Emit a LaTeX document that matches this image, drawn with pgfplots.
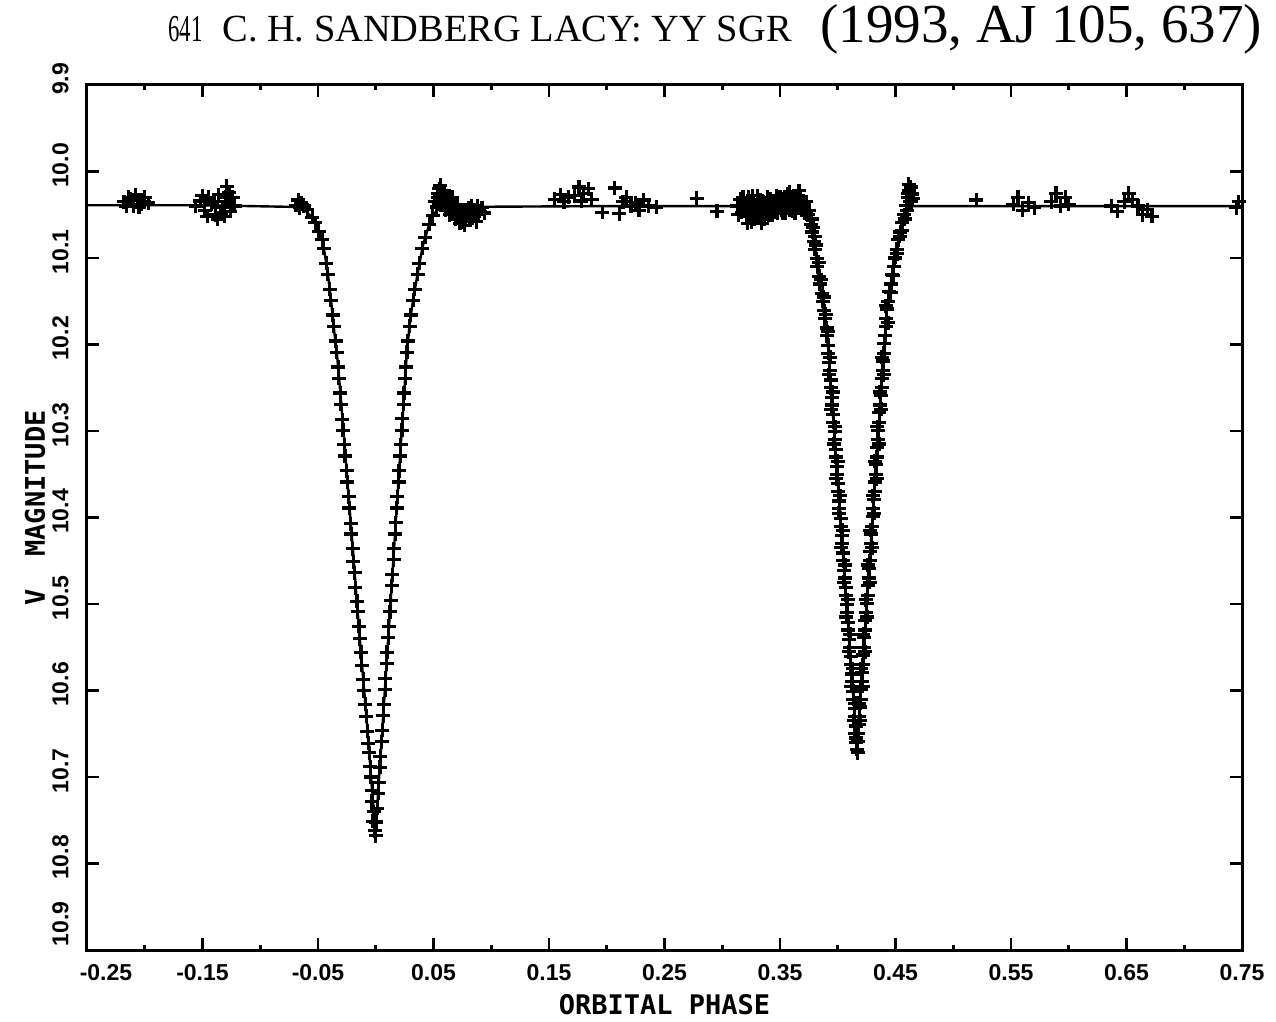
\documentclass[border=0pt]{standalone}
\usepackage{fontspec}
\setmainfont{Liberation Serif}
\newfontfamily\plotfont{Liberation Sans}
\newfontfamily\plotmono{DejaVu Sans Mono}
\usepackage{graphicx}
\usepackage{pgfplots}
\pgfplotsset{compat=1.18}

\pgfplotstableread{
x y
-0.250 10.039
-0.150 10.039
-0.0682 10.041
-0.0613 10.0445
-0.0552 10.053
-0.0509 10.064
-0.0465 10.079
-0.0439 10.097
-0.0413 10.120
-0.0387 10.149
-0.0361 10.183
-0.0335 10.212
-0.0301 10.264
-0.0266 10.322
-0.0232 10.380
-0.0197 10.438
-0.0165 10.495
-0.0130 10.553
-0.0093 10.611
-0.0058 10.669
-0.0032 10.715
-0.0006 10.758
0.0011 10.738
0.0040 10.679
0.0080 10.597
0.0120 10.515
0.0160 10.433
0.0200 10.351
0.0240 10.269
0.0269 10.210
0.0297 10.172
0.0323 10.149
0.0357 10.122
0.0409 10.085
0.0470 10.058
0.0530 10.044
0.0600 10.041
0.2000 10.040
0.3630 10.040
0.3716 10.0445
0.3760 10.052
0.3790 10.075
0.3830 10.118
0.3865 10.150
0.3916 10.203
0.3960 10.284
0.4000 10.358
0.4040 10.432
0.4080 10.506
0.4120 10.580
0.4167 10.667
0.4200 10.602
0.4250 10.503
0.4300 10.404
0.4350 10.305
0.4403 10.200
0.4426 10.160
0.4470 10.122
0.4513 10.087
0.4556 10.060
0.4600 10.042
0.4650 10.040
0.7500 10.040
}\modeltab

\pgfplotstableread{
x y
-0.218 10.035
-0.214 10.030
-0.210 10.040
-0.206 10.033
-0.203 10.038
-0.200 10.030
-0.197 10.036
-0.208 10.027
-0.216 10.040
-0.212 10.032
-0.205 10.041
-0.201 10.035
-0.156 10.040
-0.152 10.034
-0.148 10.045
-0.145 10.030
-0.142 10.038
-0.139 10.050
-0.136 10.027
-0.133 10.042
-0.129 10.017
-0.128 10.035
-0.126 10.046
-0.124 10.030
-0.122 10.040
-0.137 10.055
-0.131 10.052
-0.150 10.028
-0.146 10.052
-0.140 10.035
-0.134 10.048
-0.130 10.030
-0.127 10.024
-0.125 10.040
-0.0690 10.039
-0.0670 10.033
-0.0660 10.042
-0.0645 10.036
-0.0623 10.040
-0.0592 10.044
-0.0548 10.053
-0.0522 10.059
-0.0493 10.069
-0.0464 10.079
-0.0449 10.089
-0.0428 10.106
-0.0415 10.119
-0.0398 10.136
-0.0389 10.149
-0.0373 10.166
-0.0365 10.179
-0.0346 10.196
-0.0338 10.209
-0.0325 10.226
-0.0320 10.239
-0.0307 10.256
-0.0302 10.269
-0.0289 10.287
-0.0284 10.299
-0.0271 10.316
-0.0266 10.329
-0.0253 10.346
-0.0248 10.359
-0.0235 10.376
-0.0230 10.389
-0.0217 10.407
-0.0212 10.419
-0.0199 10.436
-0.0194 10.451
-0.0181 10.464
-0.0176 10.481
-0.0163 10.497
-0.0158 10.509
-0.0145 10.526
-0.0140 10.540
-0.0127 10.556
-0.0122 10.571
-0.0108 10.587
-0.0104 10.600
-0.0090 10.616
-0.0082 10.630
-0.0073 10.647
-0.0063 10.661
-0.0057 10.672
-0.0048 10.688
-0.0043 10.700
-0.0030 10.716
-0.0033 10.728
-0.0024 10.751
-0.0019 10.740
-0.0010 10.762
-0.0002 10.768
0.0003 10.752
0.0012 10.736
0.0022 10.719
0.0025 10.706
0.0037 10.689
0.0040 10.676
0.0051 10.659
0.0055 10.646
0.0066 10.629
0.0069 10.616
0.0081 10.599
0.0084 10.586
0.0095 10.569
0.0098 10.556
0.0110 10.539
0.0113 10.526
0.0124 10.509
0.0128 10.496
0.0139 10.479
0.0142 10.466
0.0154 10.449
0.0157 10.436
0.0168 10.419
0.0172 10.406
0.0183 10.389
0.0186 10.376
0.0198 10.359
0.0201 10.346
0.0212 10.329
0.0216 10.316
0.0227 10.299
0.0230 10.286
0.0242 10.269
0.0245 10.256
0.0256 10.239
0.0259 10.226
0.0271 10.209
0.0278 10.196
0.0293 10.179
0.0301 10.166
0.0324 10.149
0.0338 10.136
0.0362 10.119
0.0378 10.106
0.0404 10.089
0.0428 10.076
0.0462 10.061
0.0493 10.051
0.0528 10.041
0.0540 10.030
0.0550 10.020
0.0560 10.016
0.0570 10.025
0.0585 10.035
0.0600 10.028
0.0615 10.040
0.0630 10.032
0.0650 10.036
0.0665 10.045
0.0680 10.040
0.0700 10.048
0.0720 10.044
0.0740 10.052
0.0760 10.058
0.0780 10.050
0.0800 10.042
0.0820 10.046
0.0840 10.054
0.0860 10.045
0.0880 10.040
0.0900 10.046
0.0510 10.035
0.0535 10.025
0.0545 10.038
0.0575 10.032
0.0590 10.022
0.0605 10.045
0.0625 10.038
0.0640 10.050
0.0660 10.030
0.0690 10.055
0.0710 10.038
0.0730 10.060
0.0750 10.045
0.0770 10.062
0.0790 10.044
0.0810 10.055
0.0830 10.040
0.0850 10.050
0.0870 10.058
0.0890 10.050
0.0920 10.042
0.0940 10.048
0.155 10.032
0.160 10.027
0.163 10.035
0.167 10.030
0.172 10.028
0.176 10.018
0.180 10.025
0.184 10.020
0.187 10.032
0.178 10.034
0.207 10.019
0.196 10.047
0.211 10.049
0.214 10.035
0.217 10.030
0.221 10.040
0.225 10.036
0.228 10.045
0.232 10.033
0.236 10.040
0.243 10.041
0.278 10.031
0.2955 10.046
0.3130 10.040
0.3155 10.032
0.3170 10.047
0.3190 10.038
0.3210 10.052
0.3225 10.030
0.3240 10.044
0.3255 10.058
0.3270 10.036
0.3290 10.048
0.3305 10.028
0.3320 10.042
0.3340 10.060
0.3355 10.035
0.3370 10.045
0.3390 10.030
0.3405 10.050
0.3420 10.040
0.3440 10.034
0.3455 10.047
0.3470 10.028
0.3490 10.042
0.3505 10.035
0.3520 10.048
0.3540 10.030
0.3555 10.040
0.3570 10.026
0.3590 10.037
0.3605 10.046
0.3620 10.032
0.3640 10.041
0.3655 10.028
0.3670 10.036
0.3690 10.045
0.3140 10.050
0.3165 10.040
0.3180 10.030
0.3200 10.045
0.3220 10.060
0.3235 10.038
0.3250 10.048
0.3265 10.028
0.3280 10.055
0.3300 10.040
0.3315 10.050
0.3330 10.033
0.3350 10.045
0.3365 10.055
0.3380 10.038
0.3400 10.042
0.3415 10.032
0.3430 10.050
0.3450 10.040
0.3465 10.035
0.3480 10.048
0.3500 10.030
0.3515 10.045
0.3530 10.038
0.3550 10.048
0.3565 10.034
0.3580 10.044
0.3585 10.024
0.3600 10.030
0.3615 10.040
0.3630 10.048
0.3650 10.035
0.3665 10.022
0.3680 10.030
0.3700 10.040
0.3715 10.048
0.3725 10.035
0.3740 10.050
0.3755 10.045
0.3768 10.061
0.3775 10.055
0.3778 10.070
0.3790 10.065
0.3795 10.081
0.3800 10.075
0.3801 10.090
0.3810 10.085
0.3816 10.101
0.3823 10.110
0.3835 10.105
0.3838 10.121
0.3844 10.130
0.3855 10.125
0.3864 10.141
0.3870 10.150
0.3880 10.145
0.3885 10.161
0.3888 10.170
0.3895 10.165
0.3903 10.181
0.3906 10.190
0.3912 10.185
0.3918 10.201
0.3918 10.210
0.3928 10.221
0.3929 10.230
0.3939 10.241
0.3940 10.250
0.3950 10.261
0.3950 10.270
0.3961 10.281
0.3961 10.290
0.3972 10.301
0.3972 10.310
0.3982 10.321
0.3983 10.330
0.3993 10.341
0.3994 10.350
0.4004 10.361
0.4004 10.370
0.4015 10.381
0.4015 10.390
0.4026 10.401
0.4026 10.410
0.4036 10.421
0.4037 10.430
0.4047 10.441
0.4048 10.450
0.4058 10.461
0.4059 10.470
0.4069 10.481
0.4069 10.490
0.4080 10.501
0.4080 10.510
0.4091 10.521
0.4091 10.530
0.4101 10.541
0.4102 10.550
0.4112 10.561
0.4113 10.570
0.4123 10.581
0.4123 10.590
0.4134 10.601
0.4134 10.610
0.4145 10.621
0.4145 10.630
0.4155 10.641
0.4150 10.650
0.4161 10.660
0.4166 10.668
0.4172 10.672
0.3935 10.215
0.3921 10.235
0.3956 10.255
0.3943 10.275
0.3978 10.295
0.3965 10.315
0.3999 10.335
0.3986 10.355
0.4021 10.375
0.4008 10.395
0.4043 10.415
0.4029 10.435
0.4064 10.455
0.4051 10.475
0.4086 10.495
0.4073 10.515
0.4108 10.535
0.4094 10.555
0.4129 10.575
0.4116 10.595
0.4151 10.615
0.4138 10.635
0.4171 10.659
0.4179 10.650
0.4180 10.639
0.4188 10.630
0.4190 10.619
0.4198 10.610
0.4200 10.599
0.4208 10.590
0.4210 10.579
0.4218 10.570
0.4220 10.559
0.4228 10.550
0.4230 10.539
0.4238 10.530
0.4240 10.519
0.4248 10.510
0.4250 10.499
0.4258 10.490
0.4260 10.479
0.4268 10.470
0.4271 10.459
0.4279 10.450
0.4281 10.439
0.4289 10.430
0.4291 10.419
0.4299 10.410
0.4301 10.399
0.4309 10.390
0.4311 10.379
0.4319 10.370
0.4321 10.359
0.4329 10.350
0.4331 10.339
0.4339 10.330
0.4341 10.319
0.4349 10.310
0.4351 10.299
0.4359 10.290
0.4361 10.279
0.4369 10.270
0.4371 10.259
0.4380 10.250
0.4382 10.239
0.4390 10.230
0.4392 10.219
0.4400 10.210
0.4402 10.199
0.4412 10.190
0.4414 10.179
0.4422 10.170
0.4425 10.159
0.4439 10.150
0.4447 10.139
0.4462 10.130
0.4471 10.119
0.4486 10.110
0.4496 10.099
0.4511 10.090
0.4523 10.079
0.4542 10.070
0.4555 10.059
0.4577 10.050
0.4594 10.039
0.4610 10.030
0.4620 10.022
0.4630 10.018
0.4640 10.026
0.4622 10.035
0.4650 10.031
0.4161 10.655
0.4195 10.635
0.4181 10.615
0.4215 10.595
0.4202 10.575
0.4236 10.555
0.4222 10.535
0.4256 10.515
0.4242 10.495
0.4276 10.475
0.4262 10.455
0.4296 10.435
0.4282 10.415
0.4316 10.395
0.4303 10.375
0.4337 10.355
0.4323 10.335
0.4357 10.315
0.4343 10.295
0.4377 10.275
0.4363 10.255
0.4397 10.235
0.4383 10.215
0.4435 10.175
0.4418 10.155
0.4458 10.140
0.4480 10.120
0.4492 10.100
0.4515 10.095
0.4535 10.075
0.4560 10.068
0.4580 10.055
0.4600 10.045
0.4605 10.025
0.4635 10.035
0.4615 10.015
0.520 10.033
0.552 10.038
0.556 10.030
0.560 10.045
0.565 10.036
0.570 10.042
0.585 10.035
0.589 10.025
0.593 10.040
0.597 10.030
0.600 10.038
0.637 10.040
0.642 10.046
0.648 10.035
0.652 10.025
0.655 10.032
0.660 10.040
0.664 10.050
0.668 10.044
0.672 10.052
0.745 10.042
0.747 10.035
}\obstab

\begin{document}
\begin{tikzpicture}
\useasboundingbox (-43.5pt,-36pt) rectangle (594.5pt,475pt);
\begin{axis}[
  at={(0pt,0pt)}, anchor=south west,
  scale only axis, width=577.5pt, height=432.5pt,
  xmin=-0.25, xmax=0.75, ymin=9.9, ymax=10.9, y dir=reverse,
  clip=false,
  xtick={-0.25,-0.15,-0.05,0.05,0.15,0.25,0.35,0.45,0.55,0.65,0.75},
  xticklabels={{\hspace*{19pt}-0.25},{-0.15},{-0.05},{0.05},{0.15},{0.25},{0.35},{0.45},{0.55},{0.65},{0.75}},
  minor xtick={-0.2,-0.1,0,0.1,0.2,0.3,0.4,0.5,0.6,0.7},
  ytick={9.9,10,10.1,10.2,10.3,10.4,10.5,10.6,10.7,10.8,10.9},
  yticklabels={9.9,10.0,10.1,10.2,10.3,10.4,10.5,10.6,10.7,10.8,{\hspace*{20pt}10.9}},
  tick align=inside, tick pos=both,
  major tick length=6pt, minor tick length=2.4pt,
  axis line style={line width=1.5pt},
  every tick/.style={line width=1.3pt, black},
  tick label style={font=\plotfont\bfseries\fontsize{11.5}{12}\selectfont},
  xticklabel style={anchor=north, inner ysep=7pt},
  yticklabel style={rotate=90, anchor=south, inner ysep=9pt, xshift=3pt},
]
\addplot[black, line width=1.2pt] table[x=x,y=y] {\modeltab};
\addplot[only marks, mark=+, mark size=3.5pt, mark options={line width=1.6pt, black}] table[x=x,y=y] {\obstab};
\end{axis}
\node[font=\plotmono\bfseries\fontsize{13.5}{14}\selectfont] at (288.75pt,-27.5pt) {ORBITAL PHASE};
\node[rotate=90, font=\plotmono\bfseries\fontsize{13.5}{14}\selectfont] at (-26pt,221pt) {V\ \ MAGNITUDE};
\node[anchor=base west, inner sep=0pt] at (40.5pt,454pt) {\scalebox{0.6}[1]{\fontsize{19}{19}\selectfont 641}};
\node[anchor=base west, inner sep=0pt] at (67.5pt,454pt) {\fontsize{19.2}{20}\selectfont C. H. SANDBERG LACY: YY SGR};
\node[anchor=base west, inner sep=0pt] at (366.5pt,453.5pt) {\fontsize{27.5}{28}\selectfont (1993, AJ 105, 637)};
\end{tikzpicture}
\end{document}
